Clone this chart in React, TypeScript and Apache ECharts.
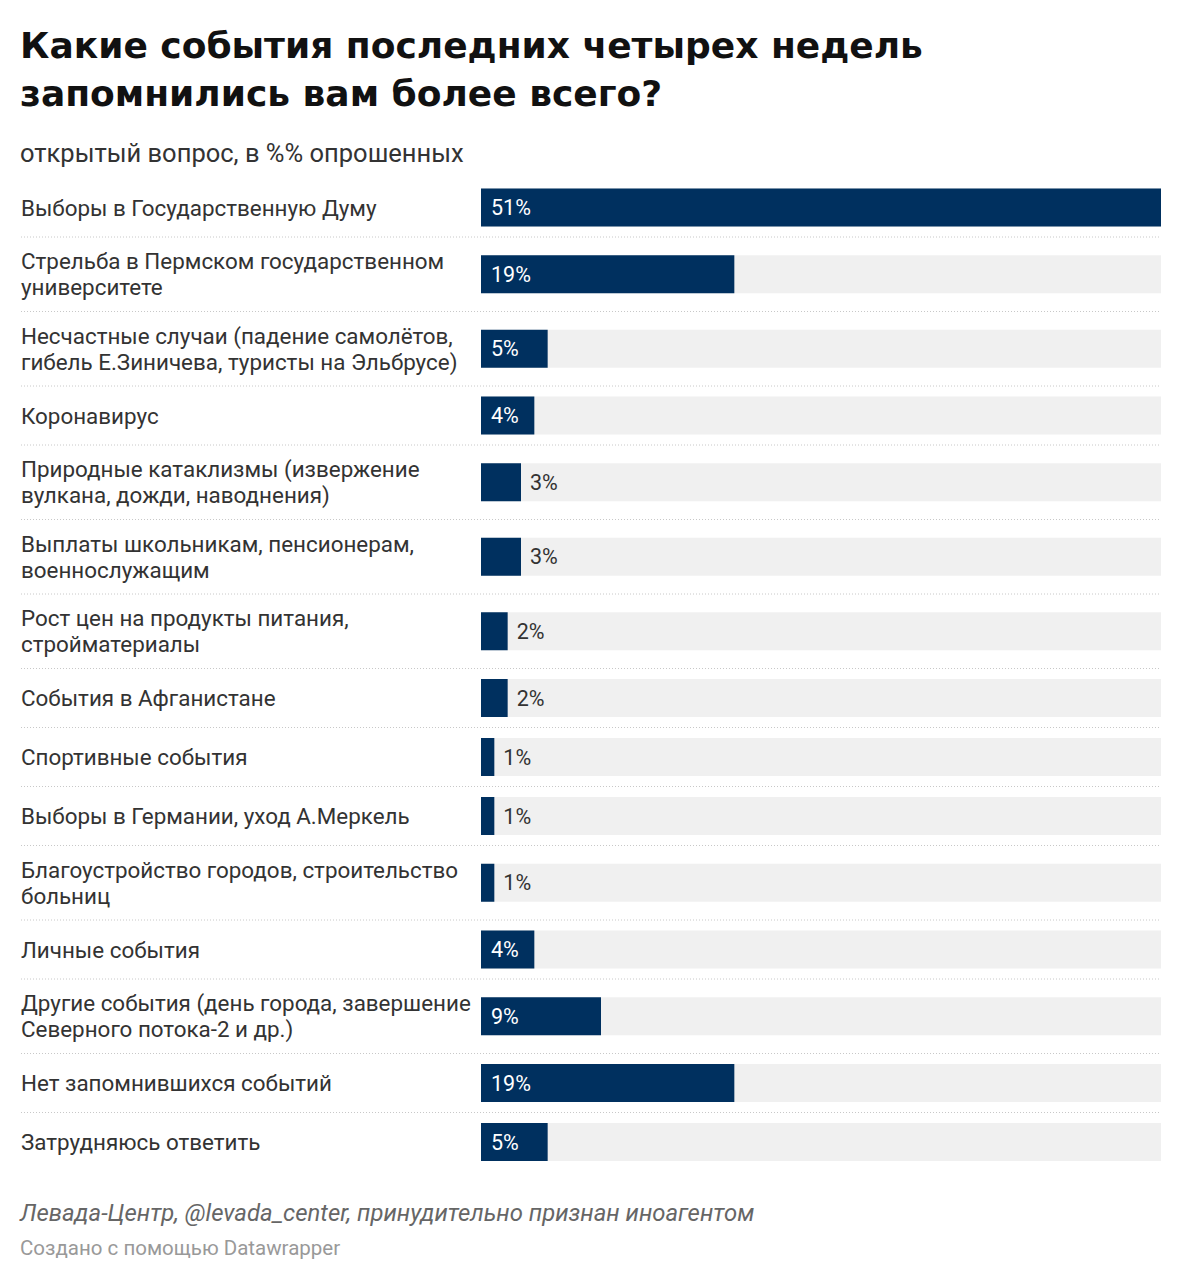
import React, { useEffect, useRef } from "react";
import * as echarts from "echarts";

const titleText = "Какие события последних четырех недель\nзапомнились вам более всего?";
const subtitleText = "открытый вопрос, в %% опрошенных";
const sourceText = "Левада-Центр, @levada_center, принудительно признан иноагентом";
const creditText = "Создано с помощью Datawrapper";

const categories: string[] = [
  "Выборы в Государственную Думу",
  "Стрельба в Пермском государственном\nуниверситете",
  "Несчастные случаи (падение самолётов,\nгибель Е.Зиничева, туристы на Эльбрусе)",
  "Коронавирус",
  "Природные катаклизмы (извержение\nвулкана, дожди, наводнения)",
  "Выплаты школьникам, пенсионерам,\nвоеннослужащим",
  "Рост цен на продукты питания,\nстройматериалы",
  "События в Афганистане",
  "Спортивные события",
  "Выборы в Германии, уход А.Меркель",
  "Благоустройство городов, строительство\nбольниц",
  "Личные события",
  "Другие события (день города, завершение\nСеверного потока-2 и др.)",
  "Нет запомнившихся событий",
  "Затрудняюсь ответить",
];

const values: number[] = [51, 19, 5, 4, 3, 3, 2, 2, 1, 1, 1, 4, 9, 19, 5];

const AXIS_MAX = 51;
const FONT = "Roboto, 'Noto Sans', sans-serif";
const TITLE_FONT = "'DejaVu Sans', sans-serif";

export default function App() {
  const ref = useRef<HTMLDivElement>(null);

  useEffect(() => {
    document.body.style.margin = "0";
    if (!ref.current) return;
    const chart = echarts.init(ref.current, null, { renderer: "svg" });

    const W = 1182;
    const left = 481;
    const right = 21;
    const startTop = 178;
    const singleH = 59;
    const extraLineH = 15.5;

    const grids: any[] = [];
    const xAxes: any[] = [];
    const yAxes: any[] = [];
    const series: any[] = [];
    const graphics: any[] = [];

    let top = startTop;
    categories.forEach((cat, i) => {
      const lines = cat.split("\n").length;
      const h = singleH + extraLineH * (lines - 1);
      grids.push({ left, right, top, height: h, containLabel: false });
      xAxes.push({
        type: "value",
        gridIndex: i,
        min: 0,
        max: AXIS_MAX,
        show: false,
      });
      yAxes.push({
        type: "category",
        gridIndex: i,
        data: [cat],
        axisLine: { show: false },
        axisTick: { show: false },
        splitLine: { show: false },
        axisLabel: {
          align: "left",
          margin: left - 21,
          fontFamily: FONT,
          fontSize: 22.4,
          lineHeight: 26,
          color: "#333333",
        },
      });
      const v = values[i];
      const inside = v >= 4;
      series.push({
        type: "bar",
        xAxisIndex: i,
        yAxisIndex: i,
        data: [v],
        barWidth: 38,
        itemStyle: { color: "#00305f" },
        showBackground: true,
        backgroundStyle: { color: "#f0f0f0" },
        label: {
          show: true,
          position: inside ? "insideLeft" : "right",
          distance: inside ? 10 : 9,
          formatter: (p: any) => `${p.value}%`,
          fontFamily: FONT,
          fontSize: 21.5,
          color: inside ? "#ffffff" : "#333333",
        },
      });
      top += h;
      if (i < categories.length - 1) {
        graphics.push({
          type: "line",
          shape: { x1: 21, y1: top, x2: W - right, y2: top },
          style: { stroke: "#c8c8c8", lineWidth: 1, lineDash: [1, 2] },
          silent: true,
        });
      }
    });

    const option: any = {
      animation: false,
      backgroundColor: "#ffffff",
      title: [
        {
          text: titleText,
          left: 20,
          top: 21,
          padding: 0,
          textStyle: {
            fontFamily: TITLE_FONT,
            fontSize: 36,
            fontWeight: "bold",
            lineHeight: 48,
            color: "#111111",
          },
        },
        {
          text: subtitleText,
          left: 20,
          top: 139,
          padding: 0,
          textStyle: {
            fontFamily: FONT,
            fontSize: 25.5,
            fontWeight: "normal",
            lineHeight: 28,
            color: "#333333",
          },
        },
        {
          text: sourceText,
          left: 20,
          top: 1200,
          padding: 0,
          textStyle: {
            fontFamily: FONT,
            fontSize: 23.9,
            fontStyle: "italic",
            fontWeight: "normal",
            lineHeight: 26,
            color: "#666666",
          },
        },
        {
          text: creditText,
          left: 20,
          top: 1236,
          padding: 0,
          textStyle: {
            fontFamily: FONT,
            fontSize: 20.5,
            fontWeight: "normal",
            lineHeight: 24,
            color: "#999999",
          },
        },
      ],
      grid: grids,
      xAxis: xAxes,
      yAxis: yAxes,
      series,
      graphic: graphics,
    };

    chart.setOption(option);
    return () => chart.dispose();
  }, []);

  return <div ref={ref} style={{ width: 1182, height: 1280 }} />;
}
